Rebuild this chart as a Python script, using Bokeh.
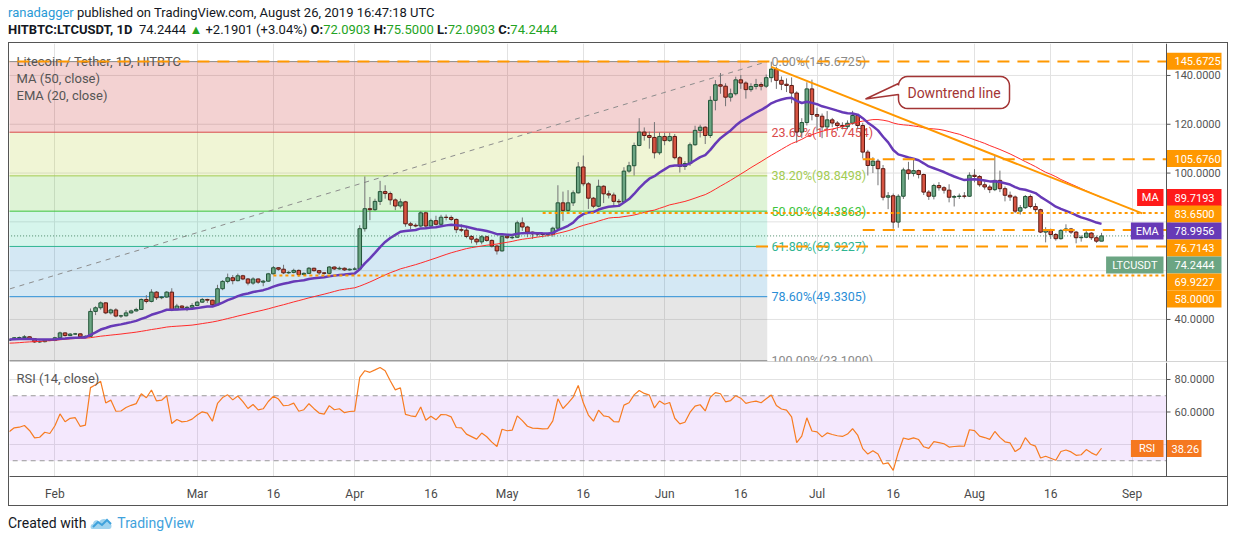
import numpy as np
import pandas as pd
from bokeh.core.properties import value
from bokeh.embed import file_html
from bokeh.layouts import column
from bokeh.models import Div, FixedTicker, Range1d, Span
from bokeh.plotting import figure
from bokeh.resources import INLINE

# HITBTC LTC/USDT daily candles, 2019-01-23 .. 2019-08-26
first_day = "2019-01-23"
closes = [
    31.8, 32.5, 32.6, 32.9, 32.1, 30.8, 30.9, 31.6, 31.4,
    32.5, 34.5, 33.4, 34.0, 34.1, 32.9, 33.1, 43.3, 44.8, 46.8,
    42.7, 43.9, 41.4, 41.5, 42.7, 43.5, 44.1, 48.2, 47.4, 51.2,
    48.9, 49.2, 51.2, 44.0, 45.5, 44.8, 45.0, 45.7,
    47.1, 48.2, 47.9, 46.0, 52.6, 55.6, 57.1, 55.9, 57.9, 56.6,
    54.9, 56.6, 55.3, 55.7, 58.7, 61.2, 60.6, 59.1, 59.3, 60.1,
    58.4, 58.9, 61.0, 60.0, 59.1, 58.9, 61.5, 60.7, 61.0, 60.3, 60.6,
    60.7, 77.2, 85.4, 85.0, 88.4, 92.4, 91.6, 89.0, 86.5, 88.2,
    79.2, 78.6, 78.3, 83.7, 78.3, 80.5, 79.0, 81.9, 81.8, 81.0,
    76.8, 76.6, 74.0, 72.9, 71.8, 73.9, 72.4, 70.1, 68.1, 74.1,
    73.5, 73.7, 79.6, 77.9, 75.8, 75.1, 75.0, 74.8, 74.9, 77.4,
    87.8, 84.7, 87.8, 91.9, 102.5, 95.6, 89.7, 86.4, 94.6, 91.5,
    91.0, 88.4, 88.2, 100.8, 103.0, 111.3, 116.8, 115.4, 114.6, 108.3, 115.0,
    113.3, 115.0, 106.3, 102.7, 103.9, 111.6, 117.5, 118.8, 115.4, 129.8,
    136.2, 135.6, 131.1, 132.5, 138.2, 136.9, 134.2, 135.5, 136.3, 135.6,
    139.1, 142.6, 138.0, 136.4, 135.9, 132.8, 116.8, 120.7, 134.5, 124.0,
    123.3, 118.9, 121.8, 120.5, 119.5, 119.0, 120.4, 123.6, 119.5, 108.6,
    103.1, 104.9, 101.8, 90.1, 90.7, 79.9, 90.5, 101.3, 99.8, 101.0,
    99.4, 92.2, 90.5, 94.9, 94.0, 93.0, 90.1, 90.4, 90.6, 90.5, 99.1,
    98.6, 95.2, 94.3, 93.2, 97.0, 93.6, 90.9, 90.2, 84.4, 85.8,
    90.4, 86.3, 85.0, 75.8, 76.5, 74.8, 73.1, 76.5, 77.1, 75.8,
    73.5, 73.7, 75.4, 73.5, 72.0903, 74.2444,
]
highs = [
    32.2, 32.8, 33.0, 33.6, 33.1, 32.3, 31.3, 31.9, 31.9,
    32.9, 35.0, 34.7, 34.4, 34.5, 34.3, 33.5, 44.5, 45.4, 47.4,
    47.0, 44.4, 44.6, 41.9, 43.8, 44.0, 44.8, 48.6, 50.0, 52.4,
    51.6, 49.6, 51.6, 52.8, 46.4, 45.8, 45.6, 46.7,
    47.6, 48.8, 48.5, 48.1, 54.2, 56.1, 58.8, 58.2, 58.8, 58.3,
    57.0, 57.3, 56.8, 56.2, 59.1, 61.9, 61.4, 62.4, 59.8, 60.8,
    60.5, 59.3, 61.5, 61.2, 60.3, 59.4, 61.9, 61.7, 61.7, 61.3, 60.9,
    61.5, 78.6, 98.6, 90.2, 89.5, 96.8, 95.0, 92.4, 89.6, 89.5,
    88.6, 80.0, 79.4, 84.4, 84.2, 81.3, 82.5, 82.9, 83.0, 82.6,
    81.4, 79.0, 77.6, 74.6, 73.5, 74.6, 74.3, 72.8, 70.6, 74.6,
    74.6, 74.3, 80.5, 81.8, 78.4, 76.0, 75.6, 75.5, 75.3, 78.0,
    95.0, 92.4, 93.0, 92.9, 104.5, 107.2, 96.3, 90.2, 97.3, 95.0,
    92.8, 92.0, 89.4, 102.4, 104.6, 112.5, 122.5, 118.7, 117.0, 120.9, 116.7,
    116.5, 116.5, 116.0, 107.0, 104.9, 112.5, 119.4, 119.8, 119.2, 131.5,
    138.1, 141.0, 136.8, 134.6, 139.5, 140.2, 137.6, 136.8, 138.6, 137.2,
    140.4, 145.6725, 143.6, 139.6, 138.8, 139.2, 133.5, 122.5, 137.2, 138.3,
    126.8, 124.4, 125.4, 122.6, 121.3, 120.8, 121.6, 125.5, 124.2, 120.6,
    109.5, 106.5, 105.8, 103.3, 92.2, 91.6, 91.3, 102.2, 104.6, 105.4,
    101.4, 99.8, 93.0, 95.6, 96.3, 94.6, 95.4, 91.0, 91.6, 92.2, 100.3,
    101.6, 99.2, 96.6, 95.2, 107.2, 101.0, 94.5, 92.4, 90.8, 86.9,
    91.0, 91.2, 87.6, 85.4, 77.8, 77.2, 75.4, 77.0, 79.0, 77.5,
    76.3, 74.5, 76.2, 75.8, 74.4, 75.5,
]
lows = [
    31.1, 31.6, 32.2, 32.4, 31.8, 30.4, 30.4, 30.6, 31.1,
    31.1, 32.3, 33.0, 33.2, 33.7, 32.6, 32.7, 32.9, 41.8, 44.0,
    42.2, 42.0, 40.9, 40.6, 41.2, 42.4, 43.2, 43.9, 46.6, 47.0,
    48.0, 48.3, 48.9, 43.4, 43.8, 44.3, 43.4, 44.8,
    45.5, 46.8, 46.8, 45.3, 45.9, 52.0, 54.8, 54.4, 55.6, 56.1,
    54.0, 54.2, 54.6, 53.6, 55.4, 58.4, 60.0, 58.6, 58.7, 58.9,
    57.5, 58.1, 58.7, 59.6, 58.3, 58.4, 58.7, 60.3, 60.4, 59.9, 60.0,
    60.2, 60.5, 76.0, 80.7, 84.5, 86.9, 89.5, 87.0, 84.8, 85.5,
    78.0, 77.0, 77.8, 77.9, 77.1, 78.1, 78.5, 78.7, 80.6, 80.4,
    75.4, 75.8, 73.3, 71.2, 70.6, 70.8, 71.9, 69.5, 66.6, 67.8,
    73.0, 72.9, 73.5, 76.3, 73.7, 73.0, 74.0, 73.6, 74.0, 73.9,
    77.2, 80.4, 84.2, 86.5, 91.6, 94.6, 85.3, 85.6, 86.0, 87.7,
    89.6, 86.5, 86.5, 87.8, 100.1, 99.0, 111.0, 113.3, 110.0, 106.0, 107.5,
    111.4, 112.8, 105.6, 100.2, 101.3, 102.9, 111.2, 114.6, 111.9, 114.4,
    125.7, 132.5, 127.4, 129.3, 131.8, 134.5, 130.5, 133.3, 134.3, 133.9,
    134.9, 137.2, 134.5, 134.0, 133.2, 128.6, 112.4, 114.4, 119.5, 121.6,
    117.0, 114.3, 117.9, 118.8, 117.4, 117.9, 118.0, 119.8, 118.0, 106.0,
    99.0, 100.0, 95.0, 88.8, 85.2, 77.2, 77.6, 89.4, 97.3, 98.6,
    97.8, 91.0, 89.0, 89.2, 92.8, 91.6, 88.0, 86.3, 89.4, 89.6, 90.2,
    96.2, 94.4, 93.2, 91.8, 92.6, 92.2, 88.4, 88.6, 83.6, 83.0,
    85.3, 85.6, 83.5, 75.4, 71.6, 73.0, 72.3, 72.7, 75.6, 75.0,
    71.2, 71.9, 73.3, 72.6, 71.4, 72.0903,
]
# closes of 2018-12-04 .. 2019-01-22, off screen, only to warm up MA / EMA / RSI
warmup_closes = [
    31.0, 28.9, 25.9, 24.2, 25.3, 25.6, 24.9, 24.4, 25.4, 24.0,
    23.5, 23.6, 24.6, 28.1, 28.9, 29.6, 32.6, 30.6, 31.6, 31.7,
    32.6, 30.5, 30.6, 29.0, 31.6, 30.4, 31.5, 30.5,
    31.6, 33.5, 32.0, 33.0, 33.5, 38.9, 37.5, 37.6, 37.4, 32.5,
    32.0, 31.6, 29.6, 32.1, 31.1, 31.6, 31.6, 31.0, 32.0, 30.6, 30.6, 31.4,
]

tick_dates = ["2019-02-01", "2019-03-01", "2019-03-16", "2019-04-01", "2019-04-16",
              "2019-05-01", "2019-05-16", "2019-06-01", "2019-06-16", "2019-07-01",
              "2019-07-16", "2019-08-01", "2019-08-16", "2019-09-01"]
tick_labels = ["Feb", "Mar", "16", "Apr", "16", "May", "16", "Jun", "16", "Jul",
               "16", "Aug", "16", "Sep"]
price_ticks = [40, 60, 80, 100, 120, 140]
price_hidden = [60, 80]          # covered by the price tags
rsi_ticks = [40, 60, 80]
rsi_hidden = [40]

# fibonacci retracement drawing
fib_ratios = [0.0, 0.236, 0.382, 0.5, 0.618, 0.786, 1.0]
fib_high, fib_low = 145.6725, 23.1000
fib_from, fib_to = "2018-12-07", "2019-06-21 04:48"

# horizontal drawings
level_values = [145.6725, 105.676, 83.65, 76.7143, 69.9227, 58.0]
level_from = ["2019-01-01", "2019-07-10", "2019-05-08", "2019-07-10", "2019-06-19", "2019-03-16"]
level_dotted = [False, False, True, False, False, True]

trend_dates = ["2019-06-22", "2019-09-03"]
trend_values = [143.5, 83.5]

ma_last, ema_last, rsi_last = "89.7193", "78.9956", "38.26"

ORIGIN = pd.Timestamp("2019-02-01")


def day(s):
    return (pd.Timestamp(s) - ORIGIN) / pd.Timedelta(days=1)


# page geometry (page pixels)
FRAME_W, PRICE_H, RSI_H = 1218, 318, 114
PX_DAY = 5.0806
FL, PT, RT = 9, 43, 362
AX = 1166                      # x of the price scale line
X_LEFT = -8.94
X_RIGHT = X_LEFT + FRAME_W / PX_DAY
P_TOP = 153.1
P_BOT = P_TOP - PRICE_H / 2.44
R_TOP = 90.46
R_BOT = R_TOP - RSI_H / 1.625


def dx(px):
    return X_LEFT + (px - FL) / PX_DAY


def py_p(py):
    return P_TOP - (py - PT) / 2.44


def py_r(py):
    return R_TOP - (py - RT) / 1.625


dates = pd.date_range(first_day, periods=len(closes), freq="D")
xd = ((dates - ORIGIN) / pd.Timedelta(days=1)).values.astype(float)
c = np.array(closes)
o = np.array((warmup_closes[-1:] + closes)[:-1])
h = np.array(highs)
lo = np.array(lows)

allc = pd.Series(warmup_closes + closes)
nw = len(warmup_closes)
ma50 = allc.rolling(50).mean().values[nw:]
ema20 = allc.ewm(span=20, adjust=False).mean().values[nw:]
delta = allc.diff()
up = delta.clip(lower=0).ewm(alpha=1 / 14, adjust=False).mean()
dn = (-delta).clip(lower=0).ewm(alpha=1 / 14, adjust=False).mean()
rsi = (100 - 100 / (1 + up / dn)).values[nw:]

tick_days = [day(t) for t in tick_dates]
xr = Range1d(X_LEFT, X_RIGHT)
FONT = "Roboto"
ORANGE = "#ff9800"
AXIS = "#555555"
GRID = "#e2e2e2"
x_end = dx(AX)


def price_scale(fig, ticks, hidden, y_of_px):
    # scale line, tick marks and labels drawn right of the plotting area
    fig.add_layout(Span(location=x_end, dimension="height", line_color=AXIS, line_width=1))
    fig.segment(x0=x_end, y0=ticks, x1=dx(AX + 4), y1=ticks, line_color=AXIS)
    shown = [t for t in ticks if t not in hidden]
    fig.text(x=dx(AX + 8), y=shown, text=[f"{t:.4f}" for t in shown], text_color=AXIS,
             text_font=value(FONT), text_font_size="11px", text_baseline="middle")


def tag(fig, y_of_px, yc, x0, x1, text, fill, tx, align):
    yv = y_of_px(yc)
    half = (y_of_px(yc - 8.5) - y_of_px(yc + 8.5)) / 2
    fig.quad(left=dx(x0), right=dx(x1), bottom=yv - half, top=yv + half,
             fill_color=fill, line_color=None)
    fig.text(x=[dx(tx)], y=[yv], text=[text], text_color="white", text_font=value(FONT),
             text_font_size="11px", text_align=align, text_baseline="middle")


def name_tag(fig, y_of_px, yc, text, fill):
    w = len(text) * 6.2 + 14
    tag(fig, y_of_px, yc, AX - 3 - w, AX - 3, text, fill, AX - 3 - w / 2, "center")


# ---------------- price pane
p = figure(frame_width=FRAME_W, frame_height=PRICE_H, x_range=xr, y_range=(P_BOT, P_TOP),
           x_axis_location=None, y_axis_location=None,
           toolbar_location=None, tools="", output_backend="svg",
           min_border_left=0, min_border_top=0, min_border_bottom=1, min_border_right=0,
           outline_line_color=None, background_fill_color="white", border_fill_color=AXIS)
p.xgrid.ticker = FixedTicker(ticks=tick_days)
p.xgrid.grid_line_color = GRID
p.ygrid.grid_line_color = None
p.segment(x0=X_LEFT - 1, y0=price_ticks, x1=x_end, y1=price_ticks, line_color=GRID)

fib_levels = [fib_high - r * (fib_high - fib_low) for r in fib_ratios]
fx0, fx1 = day(fib_from), day(fib_to)
band_colors = ["#c11e1e", "#b4cd2d", "#5ac332", "#32cda0", "#288cc8", "#828282"]
fib_colors = ["#8a8a8a", "#d94a4a", "#a3cc52", "#3cc43c", "#2fb592", "#2a8ed6", "#8a8a8a"]
p.quad(left=fx0, right=fx1, top=fib_levels[:-1], bottom=fib_levels[1:],
       fill_color=band_colors, fill_alpha=0.2, line_color=None)
p.segment(x0=fx0, y0=fib_levels, x1=fx1, y1=fib_levels, line_color=fib_colors, line_width=1)
p.line([fx0, fx1], [fib_low, fib_high], line_color="#8c8c8c", line_dash="5 5", line_width=1)
fib_text = [f"{r * 100:.2f}%({v + 1e-9:.4f})" for r, v in zip(fib_ratios, fib_levels)]
p.text(x=dx(771), y=fib_levels, text=fib_text, text_color=fib_colors,
       text_font=value(FONT), text_font_size="12.5px", text_baseline="middle")

# legend texts
p.text(x=dx(16), y=[py_p(61), py_p(78), py_p(95)],
       text=["Litecoin / Tether, 1D, HITBTC", "MA (50, close)", "EMA (20, close)"],
       text_color="#555555", text_font=value(FONT), text_font_size="13px", text_baseline="middle")

# candles
inc = c >= o
p.segment(xd, h, xd, lo, line_color="#737375", line_width=1)
p.vbar(xd[inc], 0.7, c[inc], o[inc], fill_color="#6ba583", line_color="#225437")
p.vbar(xd[~inc], 0.7, o[~inc], c[~inc], fill_color="#d75442", line_color="#5b1a13")

p.line(xd, ma50, line_color="#ff2b2b", line_width=1)
p.line(xd, ema20, line_color="#673ab7", line_width=2.5)

# last price
p.line([X_LEFT - 5, x_end], [closes[-1]] * 2, line_color="#4d8a6a", line_dash="1 2", line_width=1)

# drawings
for v, f, dot in zip(level_values, level_from, level_dotted):
    p.line([day(f), x_end], [v, v], line_color=ORANGE, line_width=2,
           line_dash="3 3" if dot else "12 8")
p.line([day(d) for d in trend_dates], trend_values, line_color=ORANGE, line_width=2)


def rounded_callout(x0, y0, x1, y1, r, tail):
    pts = []
    for cx, cy, a0 in ((x1 - r, y0 + r, -90), (x1 - r, y1 - r, 0), (x0 + r, y1 - r, 90)):
        for a in np.linspace(a0, a0 + 90, 7):
            pts.append((cx + r * np.cos(np.radians(a)), cy + r * np.sin(np.radians(a))))
    pts += tail
    for a in np.linspace(180, 270, 7):
        pts.append((x0 + r + r * np.cos(np.radians(a)), y0 + r + r * np.sin(np.radians(a))))
    return [dx(a) for a, _ in pts], [py_p(b) for _, b in pts]


cx_, cy_ = rounded_callout(898, 76, 1009, 108, 9, [(898, 94), (865, 98.5), (898, 83)])
p.patch(cx_, cy_, fill_color="white", line_color="#a33535", line_width=1.5)
p.text(x=[dx(953.5)], y=[py_p(92)], text=["Downtrend line"], text_color="#a33535",
       text_font=value(FONT), text_font_size="14px", text_align="center", text_baseline="middle")

# price scale with its tags
price_scale(p, price_ticks, price_hidden, py_p)
right_tags = [
    (None, f"{level_values[0]:.4f}", ORANGE, 60.7),
    (None, f"{level_values[1]:.4f}", ORANGE, 158),
    ("MA", ma_last, "#ff1a1a", 197),
    (None, f"{level_values[2]:.4f}", ORANGE, 213.5),
    ("EMA", ema_last, "#673ab7", 230.5),
    (None, f"{level_values[3]:.4f}", ORANGE, 247.5),
    ("LTCUSDT", f"{closes[-1]:.4f}", "#6ba583", 264.5),
    (None, f"{level_values[4]:.4f}", ORANGE, 281.5),
    (None, f"{level_values[5]:.4f}", ORANGE, 298.5),
]
for name, txt, fill, yc in right_tags:
    tag(p, py_p, yc, AX, AX + 55, txt, fill, AX + 8, "left")
    if name:
        name_tag(p, py_p, yc, name, fill)

# ---------------- RSI pane
r = figure(frame_width=FRAME_W, frame_height=RSI_H, x_range=xr, y_range=(R_BOT, R_TOP),
           x_axis_location="below", y_axis_location=None,
           toolbar_location=None, tools="", output_backend="svg",
           min_border_left=0, min_border_top=0, min_border_bottom=29, min_border_right=0,
           outline_line_color=None, background_fill_color="white", border_fill_color="white")
r.xgrid.grid_line_color = GRID
r.ygrid.grid_line_color = None
r.segment(x0=X_LEFT - 1, y0=rsi_ticks, x1=x_end, y1=rsi_ticks, line_color=GRID)
r.xaxis.ticker = FixedTicker(ticks=tick_days)
r.xaxis.major_label_overrides = {d: t for d, t in zip(tick_days, tick_labels)}
r.xaxis.major_tick_line_color = None
r.xaxis.minor_tick_line_color = None
r.xaxis.major_label_standoff = 4
r.xaxis.major_label_text_font = FONT
r.xaxis.major_label_text_font_size = "12px"
r.xaxis.major_label_text_color = "#4a4a4a"
r.xaxis.axis_line_color = AXIS

r.quad(left=X_LEFT - 10, right=x_end, bottom=30, top=70,
       fill_color="#b464f0", fill_alpha=0.15, line_color=None)
for lv in (70, 30):
    r.line([X_LEFT - 10, x_end], [lv, lv], line_color="#9a9a9a", line_dash="5 4", line_width=1)
r.line(xd, rsi, line_color="#f77c21", line_width=1.2)
r.text(x=[dx(16)], y=[py_r(378)], text=["RSI (14, close)"], text_color="#555555",
       text_font=value(FONT), text_font_size="13px", text_baseline="middle")
price_scale(r, rsi_ticks, rsi_hidden, py_r)
tag(r, py_r, 448, AX, AX + 35, rsi_last, "#f5781f", AX + 5, "left")
name_tag(r, py_r, 448, "RSI", "#f5781f")

# ---------------- header / footer
green = "#23a323"
header = Div(width=1220, height=34, margin=(0, 0, 0, 0), text=(
    f'<div style="font-family:{FONT};font-size:13px;line-height:17px;color:#131722;'
    'white-space:nowrap;margin-top:-4px">'
    '<span style="color:#2a9ad6">ranadagger</span> published on TradingView.com, '
    'August 26, 2019 16:47:18 UTC<br>'
    '<b>HITBTC:LTCUSDT, 1D</b>&nbsp; 74.2444 '
    f'<span style="color:{green}">&#9650;</span> +2.1901 (+3.04%) '
    f'<b>O:</b><span style="color:{green}">72.0903</span> '
    f'<b>H:</b><span style="color:{green}">75.5000</span> '
    f'<b>L:</b><span style="color:{green}">72.0903</span> '
    f'<b>C:</b><span style="color:{green}">74.2444</span></div>'))
footer = Div(width=400, height=28, margin=(0, 0, 0, 0), text=(
    f'<div style="font-family:{FONT};font-size:14px;color:#131722;padding-top:7px;'
    'display:flex;align-items:center;white-space:nowrap">Created with&nbsp;'
    '<svg width="24" height="14" viewBox="0 0 24 14">'
    '<path d="M2 13 C0 13 0 8 3 8 C3 4 8 3 9 6 C11 2 17 2 18 6 C22 6 23 13 19 13 Z" fill="#9fd3ef"/>'
    '<path d="M3 11 L8 6 L12 9 L17 4 L21 8" fill="none" stroke="#3fa2dc" stroke-width="2"/></svg>'
    '<span style="color:#3fa2dc">&nbsp;TradingView</span></div>'))

charts = column(p, r, spacing=0, margin=(0, 0, 0, 0), styles={"border": f"1px solid {AXIS}"})
page = column(header, charts, footer, spacing=0, margin=(8, 0, 0, 8))

open("out.html", "w").write(file_html(page, INLINE, title="LTCUSDT"))
